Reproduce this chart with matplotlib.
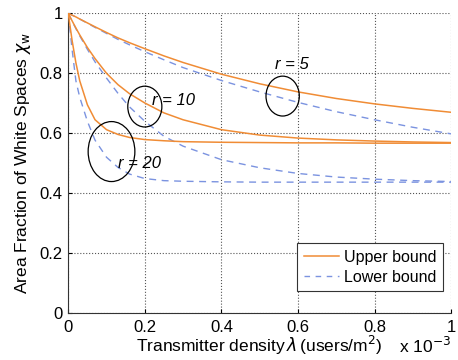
import matplotlib
matplotlib.use("Agg")
import matplotlib.pyplot as plt
from matplotlib.patches import Ellipse

plt.rcParams['font.family'] = ['Liberation Sans', 'DejaVu Sans']

# transmitter density (x 10^-3 users/m^2)
lam = [0, 0.01, 0.02, 0.03, 0.05, 0.07, 0.1, 0.13, 0.16, 0.2, 0.25, 0.3,
       0.4, 0.5, 0.6, 0.7, 0.8, 0.9, 1.0]

upper_r5 = [1.0, 0.994, 0.988, 0.981, 0.968, 0.955, 0.936, 0.918, 0.902, 0.882,
            0.858, 0.836, 0.797, 0.765, 0.738, 0.716, 0.698, 0.683, 0.670]
lower_r5 = [1.0, 0.994, 0.988, 0.981, 0.967, 0.953, 0.933, 0.913, 0.895, 0.872,
            0.845, 0.819, 0.776, 0.738, 0.703, 0.672, 0.645, 0.620, 0.598]
upper_r10 = [1.0, 0.975, 0.951, 0.928, 0.886, 0.849, 0.800, 0.762, 0.732, 0.701,
             0.668, 0.645, 0.612, 0.594, 0.584, 0.578, 0.574, 0.571, 0.569]
lower_r10 = [1.0, 0.974, 0.949, 0.925, 0.880, 0.838, 0.784, 0.733, 0.688, 0.640,
             0.590, 0.557, 0.512, 0.485, 0.466, 0.454, 0.447, 0.442, 0.439]
upper_r20 = [1.0, 0.910, 0.835, 0.775, 0.695, 0.645, 0.612, 0.596, 0.586, 0.579,
             0.575, 0.572, 0.570, 0.569, 0.568, 0.568, 0.567, 0.567, 0.567]
lower_r20 = [1.0, 0.880, 0.775, 0.720, 0.640, 0.577, 0.520, 0.486, 0.464, 0.449,
             0.442, 0.440, 0.438, 0.437, 0.437, 0.437, 0.437, 0.437, 0.437]

ticks = [0, 0.2, 0.4, 0.6, 0.8, 1]
tick_labels = ['0', '0.2', '0.4', '0.6', '0.8', '1']

# annotations: label, text position, ellipse center, ellipse size
annot_labels = ['r = 5', 'r = 10', 'r = 20']
annot_text_pos = [(0.54, 0.828), (0.218, 0.71), (0.13, 0.50)]
ell_centers = [(0.56, 0.724), (0.20, 0.689), (0.113, 0.539)]
ell_sizes = [(0.087, 0.133), (0.089, 0.136), (0.122, 0.20)]

orange = '#f08c35'
blue = '#7b93e0'

fig = plt.figure(figsize=(4.58, 3.6), dpi=100)
ax = fig.add_axes([0.149, 0.130, 0.836, 0.833])

for up in [upper_r5, upper_r10, upper_r20]:
    ax.plot(lam, up, color=orange, lw=1.1, zorder=3)
for lo in [lower_r5, lower_r10, lower_r20]:
    ax.plot(lam, lo, color=blue, lw=1.0, ls=(0, (5, 4)), zorder=2)

# legend proxies
ax.plot([], [], color=orange, lw=1.1, label='Upper bound')
ax.plot([], [], color=blue, lw=1.0, ls=(0, (4, 4)), label='Lower bound')

for lab, tp, c, s in zip(annot_labels, annot_text_pos, ell_centers, ell_sizes):
    ax.add_patch(Ellipse(c, s[0], s[1], fill=False, edgecolor='black', lw=0.9, zorder=4))
    ax.text(tp[0], tp[1], lab, fontsize=12, fontstyle='italic', ha='left', va='center', zorder=5)

ax.set_xlim(0, 1)
ax.set_ylim(0, 1)
ax.set_xticks(ticks)
ax.set_xticklabels(tick_labels)
ax.set_yticks(ticks)
ax.set_yticklabels(tick_labels)
ax.tick_params(direction='in', length=3, labelsize=12, pad=4)
ax.tick_params(axis='x', pad=5)
ax.grid(True, ls=':', color='#555555', lw=0.8)
ax.spines['top'].set_visible(False)
ax.spines['right'].set_visible(False)
ax.spines['left'].set_color('#333333')
ax.spines['bottom'].set_color('#333333')

ax.set_xlabel(r'Transmitter density$\,\lambda\,$(users/m$^2$)', fontsize=12.5, labelpad=-1)
ax.set_ylabel(r'Area Fraction of White Spaces $\chi_{\mathrm{w}}$', fontsize=12.5, labelpad=5)
ax.text(1.0, -0.11, r'x 10$^{-3}$', transform=ax.transAxes, ha='right', va='center', fontsize=12.5)

leg = ax.legend(loc='lower right', bbox_to_anchor=(0.978, 0.074), borderaxespad=0,
                fontsize=11.5, frameon=True, fancybox=False, framealpha=1,
                handlelength=2.2, handletextpad=0.3, borderpad=0.4, labelspacing=0.3)
leg.get_frame().set_edgecolor('#333333')
leg.get_frame().set_linewidth(0.8)

fig.savefig('out.png', dpi=100)
